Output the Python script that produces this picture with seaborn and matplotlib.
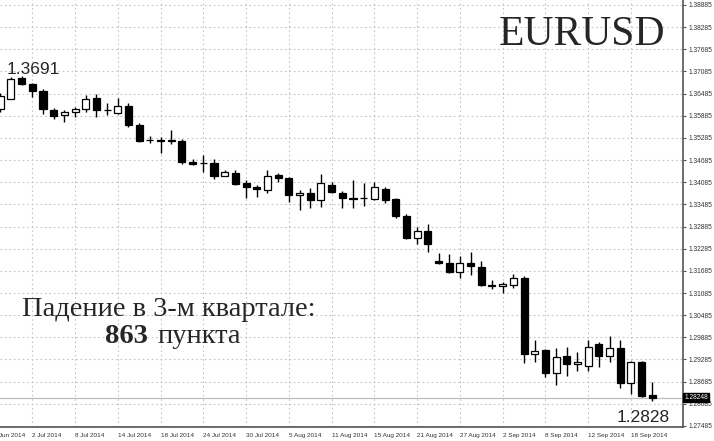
import numpy as np
import pandas as pd
import matplotlib
matplotlib.use("Agg")
import matplotlib.pyplot as plt
import seaborn as sns

# daily EURUSD bars, 27 Jun 2014 .. 22 Sep 2014
dates = pd.bdate_range("2014-06-27", "2014-09-22")

opens = [1.3607, 1.3634, 1.3690, 1.3675, 1.3656, 1.3604, 1.3591, 1.3600, 1.3608, 1.3636,
         1.3604, 1.3595, 1.3615, 1.3564, 1.3523, 1.3522, 1.3521, 1.3521, 1.3464, 1.3461,
         1.3461, 1.3426, 1.3434, 1.3406, 1.3395, 1.3388, 1.3428, 1.3419, 1.3374, 1.3380,
         1.3360, 1.3401, 1.3380, 1.3365, 1.3365, 1.3362, 1.3390, 1.3362, 1.3318, 1.3257,
         1.3277, 1.3196, 1.3189, 1.3165, 1.3191, 1.3180, 1.3129, 1.3128, 1.3130, 1.3150,
         1.2943, 1.2954, 1.2891, 1.2939, 1.2916, 1.2911, 1.2970, 1.2939, 1.2959, 1.2864,
         1.2921, 1.2832]
highs = [1.3650, 1.3694, 1.3697, 1.3678, 1.3660, 1.3609, 1.3604, 1.3613, 1.3645, 1.3648,
         1.3622, 1.3636, 1.3624, 1.3568, 1.3535, 1.3532, 1.3550, 1.3526, 1.3471, 1.3482,
         1.3471, 1.3442, 1.3442, 1.3415, 1.3401, 1.3442, 1.3433, 1.3424, 1.3388, 1.3392,
         1.3430, 1.3408, 1.3385, 1.3415, 1.3406, 1.3408, 1.3396, 1.3365, 1.3322, 1.3287,
         1.3295, 1.3216, 1.3213, 1.3210, 1.3219, 1.3195, 1.3144, 1.3139, 1.3159, 1.3155,
         1.2981, 1.2957, 1.2959, 1.2962, 1.2950, 1.2980, 1.2977, 1.2993, 1.2981, 1.2925,
         1.2925, 1.2867]
lows = [1.3600, 1.3633, 1.3672, 1.3640, 1.3593, 1.3581, 1.3572, 1.3584, 1.3600, 1.3586,
        1.3591, 1.3593, 1.3559, 1.3518, 1.3514, 1.3489, 1.3513, 1.3457, 1.3455, 1.3437,
        1.3417, 1.3425, 1.3401, 1.3365, 1.3369, 1.3379, 1.3410, 1.3356, 1.3333, 1.3338,
        1.3342, 1.3379, 1.3338, 1.3340, 1.3345, 1.3360, 1.3352, 1.3311, 1.3255, 1.3240,
        1.3219, 1.3186, 1.3162, 1.3150, 1.3157, 1.3128, 1.3120, 1.3109, 1.3122, 1.2918,
        1.2921, 1.2882, 1.2860, 1.2884, 1.2896, 1.2896, 1.2909, 1.2921, 1.2852, 1.2834,
        1.2828, 1.2816]
closes = [1.3642, 1.3688, 1.3675, 1.3656, 1.3606, 1.3588, 1.3600, 1.3608, 1.3635, 1.3604,
          1.3605, 1.3615, 1.3564, 1.3521, 1.3522, 1.3521, 1.3522, 1.3463, 1.3458, 1.3460,
          1.3426, 1.3437, 1.3404, 1.3395, 1.3390, 1.3426, 1.3419, 1.3374, 1.3380, 1.3360,
          1.3406, 1.3383, 1.3367, 1.3364, 1.3366, 1.3396, 1.3361, 1.3318, 1.3257, 1.3277,
          1.3240, 1.3189, 1.3165, 1.3191, 1.3182, 1.3130, 1.3128, 1.3133, 1.3149, 1.2943,
          1.2952, 1.2893, 1.2936, 1.2916, 1.2923, 1.2963, 1.2939, 1.2959, 1.2864, 1.2921,
          1.2830, 1.28248]

tick_pos = [-1, 3, 7, 11, 15, 19, 23, 27, 31, 35, 39, 43, 47, 51, 55, 59]
tick_labels = ["26 Jun 2014", "2 Jul 2014", "8 Jul 2014", "14 Jul 2014", "18 Jul 2014",
               "24 Jul 2014", "30 Jul 2014", "5 Aug 2014", "11 Aug 2014", "15 Aug 2014",
               "21 Aug 2014", "27 Aug 2014", "2 Sep 2014", "8 Sep 2014", "12 Sep 2014",
               "18 Sep 2014"]
price_ticks = [1.27485 + 0.006 * n for n in range(20)]
last_price = 1.28248

df = pd.DataFrame({"date": dates, "open": opens, "high": highs, "low": lows, "close": closes})
df["i"] = np.arange(len(df))
df["up"] = df["close"] >= df["open"]

sns.set_style("white")
small = "Liberation Sans"

W, H = 714, 441
fig = plt.figure(figsize=(W / 100, H / 100), dpi=100)
ax = fig.add_axes([0, 1 - 427 / H, 683 / W, 427 / H])

# grid
for p in price_ticks:
    ax.axhline(p, color="#c4c4c4", lw=0.8, ls=(0, (1.5, 2.5)), zorder=0)
for t in tick_pos:
    ax.axvline(t, color="#c4c4c4", lw=0.8, ls=(0, (1.5, 2.5)), zorder=0)
ax.axhline(last_price, color="#bdbdbd", lw=0.9, zorder=1)

# candles
bw = 0.66
ax.vlines(df["i"], df["low"], df["high"], color="black", lw=1.0, zorder=2)
body_lo = np.minimum(df["open"], df["close"])
body_h = np.maximum(np.abs(df["close"] - df["open"]), 0.00004)
ax.bar(df["i"], body_h, bottom=body_lo, width=bw,
       color=np.where(df["up"], "white", "black"), edgecolor="black", lw=0.9, zorder=3)

for s in ["left", "top"]:
    ax.spines[s].set_visible(False)
for s in ["right", "bottom"]:
    ax.spines[s].set_color("#555555")
    ax.spines[s].set_linewidth(1.2)

ax.yaxis.tick_right()
ax.set_yticks(price_ticks)
ax.set_yticklabels([f"{p:.5f}" for p in price_ticks], fontsize=4.8, color="#333333",
                   family=small)
ax.set_xticks(tick_pos)
ax.set_xticklabels(tick_labels, fontsize=4.6, color="#333333", ha="left", family=small)
ax.tick_params(axis="both", length=2.5, width=0.8, color="#555555", pad=1.2)
ax.tick_params(axis="x", pad=2)

# limits after ticks so the off-screen tick does not widen the view
ax.set_xlim(-0.02, 63.87)
ax.set_ylim(1.27457, 1.39020)

# first date label sits left of the chart and is cut by the edge
ax.annotate(tick_labels[0], xy=(tick_pos[0], 0), xycoords=ax.get_xaxis_transform(),
            xytext=(0, -4.5), textcoords="offset points", va="top", ha="left",
            fontsize=4.6, color="#333333", family=small, annotation_clip=False)

# current price marker
ax.text(1.002, last_price, f"{last_price:.5f}", transform=ax.get_yaxis_transform(),
        fontsize=4.8, color="white", va="center", ha="left", family=small,
        bbox=dict(boxstyle="square,pad=0.15", fc="black", ec="black"))

# annotations
fig.text(665 / W, 1 - 45 / H, "EURUSD", family="Liberation Serif", fontsize=30,
         ha="right", va="baseline")
fig.text(7 / W, 1 - 74 / H, "1.3691", family="Liberation Sans", fontsize=12.5,
         ha="left", va="baseline")
fig.text(670 / W, 1 - 421.5 / H, "1.2828", family="Liberation Sans", fontsize=12.5,
         ha="right", va="baseline")
fig.text(22 / W, 1 - 316 / H, "Падение в 3-м квартале:", family="Liberation Serif",
         fontsize=20.5, ha="left", va="baseline")
fig.text(105 / W, 1 - 343 / H, "863", family="Liberation Serif", fontsize=20.5,
         fontweight="bold", ha="left", va="baseline")
fig.text(157 / W, 1 - 343 / H, "пункта", family="Liberation Serif", fontsize=20.5,
         ha="left", va="baseline")

fig.savefig("out.png", dpi=100)
